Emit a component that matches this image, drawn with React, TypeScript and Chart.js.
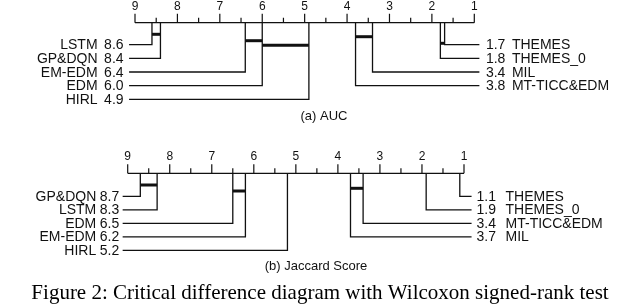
import React, { useEffect, useRef } from "react";
import { Chart, registerables } from "chart.js";
Chart.register(...registerables);

const W = 640;
const H = 304;

const tickLabels = ["9", "8", "7", "6", "5", "4", "3", "2", "1"];
const tickValues = [9, 8, 7, 6, 5, 4, 3, 2, 1];
const minorTickValues = [8.5, 7.5, 6.5, 5.5, 4.5, 3.5, 2.5, 1.5];

const aucLeftNames = ["LSTM", "GP&DQN", "EM-EDM", "EDM", "HIRL"];
const aucLeftRanks = [8.6, 8.4, 6.4, 6.0, 4.9];
const aucRightNames = ["THEMES", "THEMES_0", "MIL", "MT-TICC&EDM"];
const aucRightRanks = [1.7, 1.8, 3.4, 3.8];
const aucCliqueFrom = [8.6, 6.4, 6.0, 1.8, 3.8];
const aucCliqueTo = [8.4, 6.0, 4.9, 1.7, 3.4];

const jacLeftNames = ["GP&DQN", "LSTM", "EDM", "EM-EDM", "HIRL"];
const jacLeftRanks = [8.7, 8.3, 6.5, 6.2, 5.2];
const jacRightNames = ["THEMES", "THEMES_0", "MT-TICC&EDM", "MIL"];
const jacRightRanks = [1.1, 1.9, 3.4, 3.7];
const jacCliqueFrom = [8.7, 6.5, 3.7];
const jacCliqueTo = [8.3, 6.2, 3.4];

const subCaptions = ["(a) AUC", "(b) Jaccard Score"];
const figureCaption =
  "Figure 2: Critical difference diagram with Wilcoxon signed-rank test";

// ---- layout (positions / sizes / styles) ----
const diagrams = [
  {
    axisId: "x",
    leftNames: aucLeftNames,
    leftRanks: aucLeftRanks,
    rightNames: aucRightNames,
    rightRanks: aucRightRanks,
    cliqueFrom: aucCliqueFrom,
    cliqueTo: aucCliqueTo,
    caption: subCaptions[0],
    axisY: 22.7,
    px9: 135,
    px1: 474.3,
    rowY0: 44.7,
    rowGap: 13.65,
    lineLeft: 9.14,
    lineRight: 0.88,
    cliqueY: [34.3, 40.7, 45.3, 43.3, 36.7],
    leftValGap: 5.5,
    leftNameGap: 26,
    rightValGap: 6.5,
    rightNameGap: 26,
    capX: 324,
    capY: 120,
  },
  {
    axisId: "x2",
    leftNames: jacLeftNames,
    leftRanks: jacLeftRanks,
    rightNames: jacRightNames,
    rightRanks: jacRightRanks,
    cliqueFrom: jacCliqueFrom,
    cliqueTo: jacCliqueTo,
    caption: subCaptions[1],
    axisY: 173.3,
    px9: 127.7,
    px1: 464,
    rowY0: 196.4,
    rowGap: 13.5,
    lineLeft: 9.12,
    lineRight: 0.82,
    cliqueY: [185, 191, 188.3],
    leftValGap: 3.4,
    leftNameGap: 23,
    rightValGap: 5,
    rightNameGap: 29,
    capX: 316,
    capY: 270,
  },
];

const INK = "#111";
const LABEL_FONT = '14px "Liberation Sans", Arial, sans-serif';
const TICK_FONT = '12px "Liberation Sans", Arial, sans-serif';
const SUBCAP_FONT = '13px "Liberation Sans", Arial, sans-serif';

function scaleRange(px9: number, px1: number) {
  const u = (px1 - px9) / 8;
  const max = 9 + px9 / u;
  return { min: max - W / u, max };
}

function buildDatasets() {
  const ds: any[] = [];
  const base = {
    showLine: true,
    pointRadius: 0,
    borderColor: INK,
    fill: false,
    tension: 0,
    clip: false,
    yAxisID: "y",
    borderJoinStyle: "miter",
  };
  diagrams.forEach((d) => {
    ds.push({
      ...base,
      xAxisID: d.axisId,
      borderWidth: 1.3,
      data: [
        { x: 9, y: d.axisY },
        { x: 1, y: d.axisY },
      ],
    });
    d.leftRanks.forEach((r, j) => {
      const ry = d.rowY0 + j * d.rowGap;
      ds.push({
        ...base,
        xAxisID: d.axisId,
        borderWidth: 1.3,
        data: [
          { x: r, y: d.axisY },
          { x: r, y: ry },
          { x: d.lineLeft, y: ry },
        ],
      });
    });
    d.rightRanks.forEach((r, j) => {
      const ry = d.rowY0 + j * d.rowGap;
      ds.push({
        ...base,
        xAxisID: d.axisId,
        borderWidth: 1.3,
        data: [
          { x: r, y: d.axisY },
          { x: r, y: ry },
          { x: d.lineRight, y: ry },
        ],
      });
    });
    d.cliqueFrom.forEach((f, k) => {
      ds.push({
        ...base,
        xAxisID: d.axisId,
        borderWidth: 3,
        data: [
          { x: f, y: d.cliqueY[k] },
          { x: d.cliqueTo[k], y: d.cliqueY[k] },
        ],
      });
    });
  });
  return ds;
}

const cdPlugin = {
  id: "cdText",
  afterDraw(chart: any) {
    const ctx: CanvasRenderingContext2D = chart.ctx;
    const ys = chart.scales.y;
    ctx.save();
    ctx.fillStyle = INK;
    ctx.strokeStyle = INK;
    diagrams.forEach((d) => {
      const xs = chart.scales[d.axisId];
      const ay = ys.getPixelForValue(d.axisY);
      // ticks
      ctx.lineWidth = 1.2;
      ctx.beginPath();
      tickValues.forEach((v) => {
        const px = xs.getPixelForValue(v);
        ctx.moveTo(px, ay);
        ctx.lineTo(px, ay - 9);
      });
      minorTickValues.forEach((v) => {
        const px = xs.getPixelForValue(v);
        ctx.moveTo(px, ay);
        ctx.lineTo(px, ay - 5);
      });
      ctx.stroke();
      // tick labels
      ctx.font = TICK_FONT;
      ctx.textAlign = "center";
      ctx.textBaseline = "alphabetic";
      tickValues.forEach((v, i) => {
        ctx.fillText(tickLabels[i], xs.getPixelForValue(v), ay - 13);
      });
      // row labels
      ctx.font = LABEL_FONT;
      const leftX = xs.getPixelForValue(d.lineLeft);
      const rightX = xs.getPixelForValue(d.lineRight);
      d.leftNames.forEach((name, j) => {
        const ry = ys.getPixelForValue(d.rowY0 + j * d.rowGap) + 4.5;
        ctx.textAlign = "right";
        ctx.fillText(d.leftRanks[j].toFixed(1), leftX - d.leftValGap, ry);
        ctx.fillText(name, leftX - d.leftValGap - d.leftNameGap, ry);
      });
      d.rightNames.forEach((name, j) => {
        const ry = ys.getPixelForValue(d.rowY0 + j * d.rowGap) + 4.5;
        ctx.textAlign = "left";
        ctx.fillText(d.rightRanks[j].toFixed(1), rightX + d.rightValGap, ry);
        ctx.fillText(name, rightX + d.rightValGap + d.rightNameGap, ry);
      });
      // sub caption
      ctx.font = SUBCAP_FONT;
      ctx.textAlign = "center";
      ctx.fillText(d.caption, d.capX, ys.getPixelForValue(d.capY));
    });
    // figure caption
    let size = 18;
    ctx.font = `${size}px "Liberation Serif", "Times New Roman", serif`;
    const w = ctx.measureText(figureCaption).width;
    size = Math.max(15, Math.min(21, (size * 636) / w));
    ctx.font = `${size}px "Liberation Serif", "Times New Roman", serif`;
    ctx.textAlign = "center";
    ctx.textBaseline = "alphabetic";
    ctx.fillStyle = "#000";
    ctx.fillText(figureCaption, 320, ys.getPixelForValue(299));
    ctx.restore();
  },
};

export default function App() {
  const ref = useRef<HTMLCanvasElement>(null);
  useEffect(() => {
    const ra = scaleRange(diagrams[0].px9, diagrams[0].px1);
    const rb = scaleRange(diagrams[1].px9, diagrams[1].px1);
    const chart = new Chart(ref.current as HTMLCanvasElement, {
      type: "scatter",
      data: { datasets: buildDatasets() },
      options: {
        animation: false,
        responsive: false,
        devicePixelRatio: 1,
        events: [],
        layout: { padding: 0 },
        plugins: { legend: { display: false }, tooltip: { enabled: false } },
        scales: {
          x: {
            type: "linear",
            reverse: true,
            min: ra.min,
            max: ra.max,
            bounds: "data",
            display: false,
          },
          x2: {
            type: "linear",
            axis: "x",
            reverse: true,
            min: rb.min,
            max: rb.max,
            bounds: "data",
            display: false,
          },
          y: {
            type: "linear",
            reverse: true,
            min: 0,
            max: H,
            display: false,
          },
        },
      } as any,
      plugins: [cdPlugin],
    });
    return () => chart.destroy();
  }, []);
  return (
    <div
      style={{
        position: "fixed",
        left: 0,
        top: 0,
        width: W,
        height: H,
        background: "#fff",
      }}
    >
      <canvas
        ref={ref}
        width={W}
        height={H}
        style={{ width: W, height: H, display: "block" }}
      />
    </div>
  );
}
